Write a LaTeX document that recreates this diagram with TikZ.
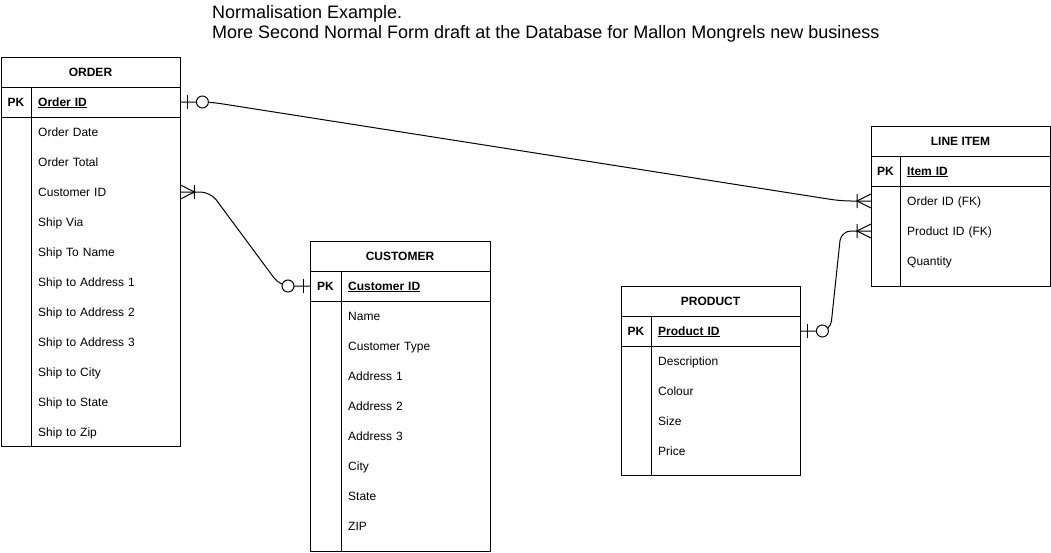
\documentclass[tikz,border=0pt]{standalone}
\usepackage{fontspec}
\setmainfont{Liberation Sans}
\usetikzlibrary{calc}
\tikzset{
  tbl/.style={draw, line width=1pt, anchor=north west, inner sep=0pt},
  hdr/.style={font=\fontsize{12}{14}\selectfont\bfseries, text height=9.6pt, text depth=1.5pt},
  fld/.style={anchor=west, text width=135pt, inner xsep=7pt, inner ysep=0pt,
    text height=9.6pt, text depth=1.5pt,
    minimum height=30pt, align=left, font=\fontsize{12}{14}\selectfont},
  rel/.style={line width=1pt, rounded corners=10pt},
  zeroone/.pic={\draw[line width=1pt] (7,-7) -- (7,7);
    \draw[line width=1pt, fill=white] (22,0) circle (6);},
  onemany/.pic={\draw[line width=1pt] (0,-7) -- (14,0) -- (0,7) (14,-7) -- (14,7);},
}
\begin{document}
\begin{tikzpicture}[x=1pt, y=-1pt]
    \useasboundingbox (0,0) rectangle (1051,552);
    \node[anchor=north west, align=left, inner sep=0pt, font=\fontsize{18}{20}\selectfont] (title) at (212,5)
      {Normalisation Example.\\More Second Normal Form draft at the Database for Mallon Mongrels new business};
    % ORDER
    \node[tbl, minimum width=179pt, minimum height=389pt] (order) at (1,57) {};
    \draw[line width=1pt] (1,87) -- (180,87) (1,117) -- (180,117) (31,87) -- (31,446);
    \node[hdr] (order-t) at (90.5,72) {ORDER};
    \node[hdr] (order-pk) at (16,102) {PK};
    \node[fld] (order-0) at (31,102) {\textbf{\underline{Order ID}}};
    \foreach \f [count=\i] in {Order Date, Order Total, Customer ID, Ship Via, Ship To Name,
      Ship to Address 1, Ship to Address 2, Ship to Address 3, Ship to City, Ship to State, Ship to Zip}{
      \node[fld] (order-\i) at (31,102+30*\i) {\f};
    }
    % CUSTOMER
    \node[tbl, minimum width=180pt, minimum height=310pt] (cust) at (310,241) {};
    \draw[line width=1pt] (310,271) -- (490,271) (310,301) -- (490,301) (341,271) -- (341,551);
    \node[hdr] (cust-t) at (400,256) {CUSTOMER};
    \node[hdr] (cust-pk) at (325.5,286) {PK};
    \node[fld] (cust-0) at (341,286) {\textbf{\underline{Customer ID}}};
    \foreach \f [count=\i] in {Name, Customer Type, Address 1, Address 2, Address 3, City, State, ZIP}{
      \node[fld] (cust-\i) at (341,286+30*\i) {\f};
    }
    % PRODUCT
    \node[tbl, minimum width=179pt, minimum height=189pt] (prod) at (621,286) {};
    \draw[line width=1pt] (621,316) -- (800,316) (621,346) -- (800,346) (651,316) -- (651,475);
    \node[hdr] (prod-t) at (710.5,301) {PRODUCT};
    \node[hdr] (prod-pk) at (636,331) {PK};
    \node[fld] (prod-0) at (651,331) {\textbf{\underline{Product ID}}};
    \foreach \f [count=\i] in {Description, Colour, Size, Price}{
      \node[fld] (prod-\i) at (651,331+30*\i) {\f};
    }
    % LINE ITEM
    \node[tbl, minimum width=179pt, minimum height=160pt] (line) at (871,126) {};
    \draw[line width=1pt] (871,156) -- (1050,156) (871,186) -- (1050,186) (900,156) -- (900,286);
    \node[hdr] (line-t) at (960.5,141) {LINE ITEM};
    \node[hdr] (line-pk) at (885.5,171) {PK};
    \node[fld] (line-0) at (900,171) {\textbf{\underline{Item ID}}};
    \foreach \f [count=\i] in {Order ID (FK), Product ID (FK), Quantity}{
      \node[fld] (line-\i) at (900,171+30*\i) {\f};
    }
    % relationships
    \draw[rel] (order-0.east) -- ++(30,0) -- ($(line.west |- line-1)+(-30,0)$) -- (line.west |- line-1);
    \draw[rel] (order-3.east) -- ++(30,0) -- ($(cust.west |- cust-0)+(-30,0)$) -- (cust.west |- cust-0);
    \draw[rel] (prod-0.east) -- ++(30,0) -- ($(line.west |- line-2)+(-30,0)$) -- (line.west |- line-2);
    \pic at (order-0.east) {zeroone};
    \pic[xscale=-1] at (line.west |- line-1) {onemany};
    \pic at (order-3.east) {onemany};
    \pic[xscale=-1] at (cust.west |- cust-0) {zeroone};
    \pic at (prod-0.east) {zeroone};
    \pic[xscale=-1] at (line.west |- line-2) {onemany};
\end{tikzpicture}
\end{document}
